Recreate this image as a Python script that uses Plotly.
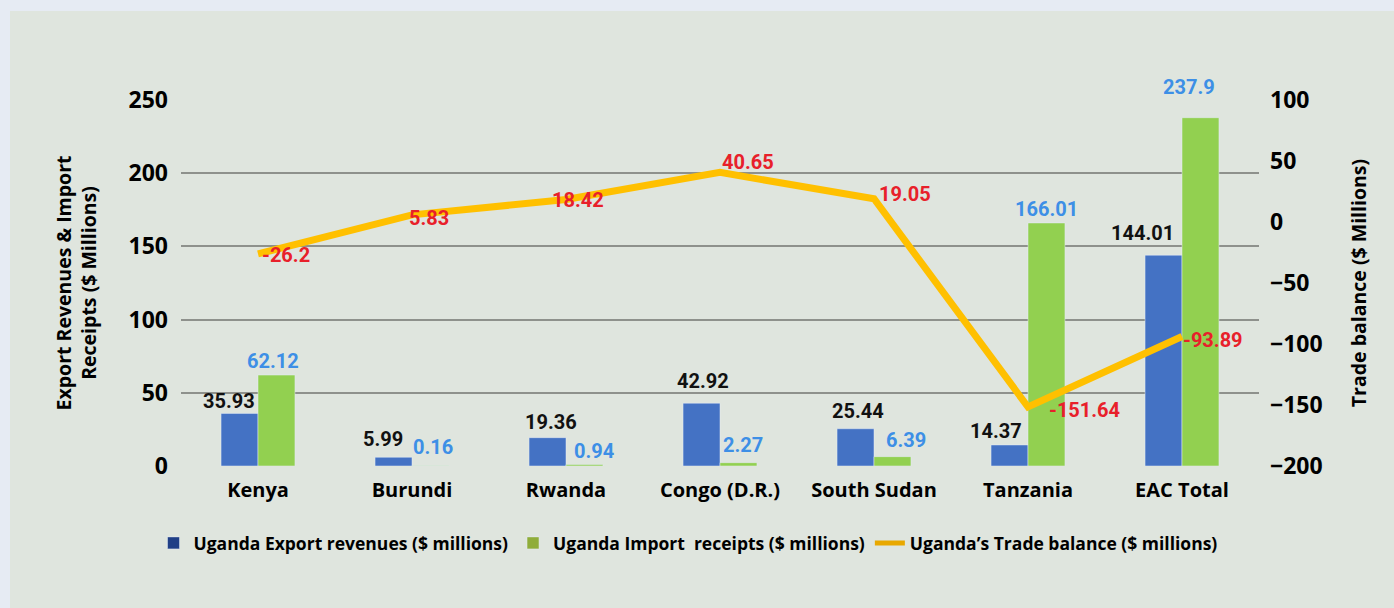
import plotly.graph_objects as go

categories = ["Kenya", "Burundi", "Rwanda", "Congo (D.R.)", "South Sudan", "Tanzania", "EAC Total"]
exports = [35.93, 5.99, 19.36, 42.92, 25.44, 14.37, 144.01]
imports = [62.12, 0.16, 0.94, 2.27, 6.39, 166.01, 237.9]
balance = [-26.2, 5.83, 18.42, 40.65, 19.05, -151.64, -93.89]

left_ticks = [0, 50, 100, 150, 200, 250]
right_ticks = [-200, -150, -100, -50, 0, 50, 100]

# label placement offsets (px)
exp_dx = [-11, -11, 3, 1, 2, -13.5, -21]
exp_dy = [12, 18, 16, 22, 18, 14, 22]
imp_dx = [-4, 2.5, 9, 4, 13.5, 0, -11.5]
imp_dy = [14, 19, 14, 18, 17, 14, 31]
bal_dx = [2, -5, -16, 0, 3, 19, -1]
bal_dy = [-1, -3, 0, 10, 5, -3, -3]

W, H = 1394, 608
ML, MR, MT, MB = 181, 135, 100, 142
PW, PH = W - ML - MR, H - MT - MB
HALF_BAR = 18.5

def px_x(p):
    return (p - ML) / PW

def px_y(p):
    return (H - MB - p) / PH

TICKFONT = dict(family="Open Sans", size=23, color="black", weight="bold")
LABEL_FAMILY = "Roboto"
LABEL_SIZE = 20

fig = go.Figure()

fig.add_trace(go.Bar(
    x=categories, y=exports, name="Uganda Export revenues ($ millions)", offsetgroup="exp",
    marker_color="#4472c4", showlegend=False,
))
fig.add_trace(go.Bar(
    x=categories, y=imports, name="Uganda Import  receipts ($ millions)", offsetgroup="imp",
    marker_color="#92d050", showlegend=False,
))
fig.add_trace(go.Scatter(
    x=categories, y=balance, yaxis="y2", mode="lines",
    line=dict(color="#ffc000", width=7), showlegend=False,
))

# legend-only entries
fig.add_trace(go.Bar(x=[categories[0]], y=[None], name="Uganda Export revenues ($ millions)",
                     offsetgroup="exp", marker_color="#203f86"))
fig.add_trace(go.Bar(x=[categories[0]], y=[None], name="Uganda Import  receipts ($ millions)",
                     offsetgroup="imp", marker_color="#8fad3a"))
fig.add_trace(go.Scatter(x=[None], y=[None], yaxis="y2", mode="lines", name="Uganda’s Trade balance ($ millions)",
                         line=dict(color="#e8a800", width=5)))

for c, v, dx, dy in zip(categories, exports, exp_dx, exp_dy):
    fig.add_annotation(x=c, y=v, xref="x", yref="y", text=f"{v:g}", showarrow=False,
                       xanchor="center", yanchor="middle", xshift=-HALF_BAR + dx, yshift=dy,
                       font=dict(family=LABEL_FAMILY, size=LABEL_SIZE, color="#111111", weight="bold"))
for c, v, dx, dy in zip(categories, imports, imp_dx, imp_dy):
    fig.add_annotation(x=c, y=v, xref="x", yref="y", text=f"{v:g}", showarrow=False,
                       xanchor="center", yanchor="middle", xshift=HALF_BAR + dx, yshift=dy,
                       font=dict(family=LABEL_FAMILY, size=LABEL_SIZE, color="#3d8fe6", weight="bold"))
for c, v, dx, dy in zip(categories, balance, bal_dx, bal_dy):
    fig.add_annotation(x=c, y=v, xref="x", yref="y2", text=f"{v:g}", showarrow=False,
                       xanchor="left", yanchor="middle", xshift=dx, yshift=dy,
                       font=dict(family=LABEL_FAMILY, size=LABEL_SIZE, color="#e8202a", weight="bold"))

fig.add_shape(type="rect", xref="paper", yref="paper", layer="below",
              x0=px_x(10), x1=px_x(W + 5), y0=px_y(H + 5), y1=px_y(11),
              fillcolor="#dfe5de", line_width=0)

fig.update_layout(
    width=W, height=H,
    margin=dict(l=ML, r=MR, t=MT, b=MB),
    paper_bgcolor="#e6ebf3", plot_bgcolor="rgba(0,0,0,0)",
    barmode="group", bargap=0.52, bargroupgap=0,
    font=dict(family="Open Sans", color="black"),
    xaxis=dict(tickfont=dict(family="Open Sans", size=20, color="black", weight="bold"), showgrid=False,
               showline=False, ticks="", ticklabelstandoff=10),
    yaxis=dict(range=[0, 250], tickvals=left_ticks, tickfont=TICKFONT,
               showgrid=True, gridcolor="#8e918c", gridwidth=2, zeroline=False,
               ticklabelstandoff=12,
               title=dict(text="Export Revenues & Import<br>Receipts ($ Millions)",
                          font=dict(family="Open Sans", size=19.5, color="black", weight="bold"), standoff=26)),
    yaxis2=dict(range=[-200, 100], tickvals=right_ticks, overlaying="y", side="right",
                tickfont=TICKFONT, showgrid=False, zeroline=False, ticklabelstandoff=10,
                title=dict(text="Trade balance ($ Millions)",
                           font=dict(family="Open Sans", size=19.5, color="black", weight="bold"), standoff=30)),
    legend=dict(orientation="h", x=0.5 - 32 / PW, xanchor="center", y=px_y(543), yanchor="middle",
                font=dict(family="Open Sans", size=17.5, color="black", weight="bold"), bgcolor="rgba(0,0,0,0)",
                traceorder="normal", itemwidth=30),
)

fig.write_html("out.html", post_script="document.body.style.margin='0';",
               config={"displayModeBar": False})
